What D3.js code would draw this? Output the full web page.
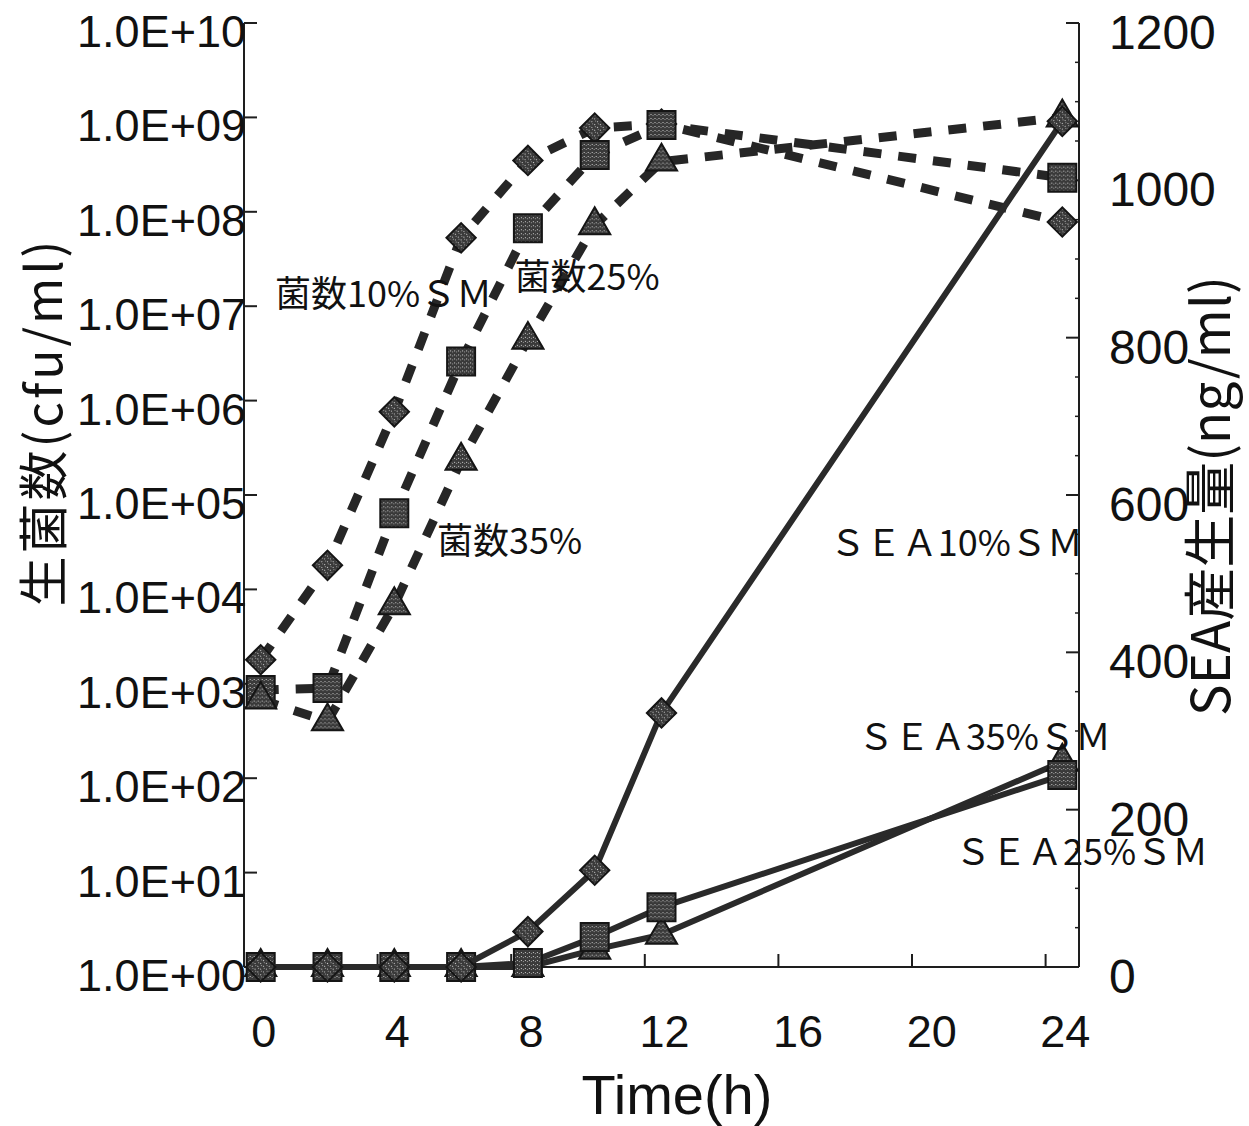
<!DOCTYPE html>
<html>
<head>
<meta charset="utf-8">
<script src="https://cdn.jsdelivr.net/npm/d3@7"></script>
<style>
  body { margin: 0; background: #fff; }
  svg { display: block; }
</style>
</head>
<body>
<svg id="chart" width="1249" height="1126"></svg>
<script>
// sampling hours
const hours = [0, 2, 4, 6, 8, 10, 12, 24];

// viable count (cfu/ml), left log axis
const count10 = [1.8e3, 1.8e4, 7.6e5, 5.3e7, 3.5e8, 7.7e8, 8.5e8, 7.8e7];
const count25 = [8.6e2, 9.0e2, 6.4e4, 2.6e6, 6.7e7, 4.0e8, 8.3e8, 2.3e8];
const count35 = [6.8e2, 4.0e2, 6.8e3, 2.3e5, 4.4e6, 7.2e7, 3.4e8, 1.0e9];

// SEA production (ng/ml), right axis
const sea10 = [0, 0, 0, 0, 45, 123, 323, 1075];
const sea25 = [0, 0, 0, 0, 5, 38, 76, 244];
const sea35 = [0, 0, 0, 0, 0, 22, 41, 261];

const xTicks = [0, 4, 8, 12, 16, 20, 24];
const leftTicks = [1e0, 1e1, 1e2, 1e3, 1e4, 1e5, 1e6, 1e7, 1e8, 1e9, 1e10];
const leftTickLabels = ["1.0E+00", "1.0E+01", "1.0E+02", "1.0E+03", "1.0E+04", "1.0E+05",
                        "1.0E+06", "1.0E+07", "1.0E+08", "1.0E+09", "1.0E+10"];
const rightTicks = [0, 200, 400, 600, 800, 1000, 1200];

// in-plot labels: [text, hour, value, axis]
const notes = [
    ["菌数10%ＳＭ", 0.43, 9.8e6, "L"],
    ["菌数25%", 7.6, 1.5e7, "L"],
    ["菌数35%", 5.28, 2.4e4, "L"],
    ["ＳＥＡ10%ＳＭ", 17.04, 522, "R"],
    ["ＳＥＡ35%ＳＭ", 17.88, 276, "R"],
    ["ＳＥＡ25%ＳＭ", 20.79, 130, "R"]
];

const svg = d3.select("#chart");
const plotL = 244, plotR = 1079, plotT = 23, plotB = 967;

const x = d3.scaleLinear().domain([-0.5, 24.5]).range([plotL, plotR]);
const yL = d3.scaleLog().domain([1, 1e10]).range([plotB, plotT]);
const yR = d3.scaleLinear().domain([0, 1200]).range([plotB, plotT]);

const ink = "#1e1e1e";
const numFont = "'Liberation Sans', Arial, sans-serif";
const cjkFont = "'Noto Sans CJK JP', sans-serif";

// speckled fill for markers
const defs = svg.append("defs");
const pat = defs.append("pattern")
    .attr("id", "speckle")
    .attr("width", 4).attr("height", 4)
    .attr("patternUnits", "userSpaceOnUse");
pat.append("rect").attr("width", 4).attr("height", 4).attr("fill", "#3a3a3a");
pat.append("rect").attr("x", 1).attr("y", 1).attr("width", 1).attr("height", 1).attr("fill", "#cfcfcf");
pat.append("rect").attr("x", 3).attr("y", 2).attr("width", 1).attr("height", 1).attr("fill", "#9a9a9a");

// axes frame
svg.append("line").attr("x1", plotL).attr("x2", plotL).attr("y1", plotT).attr("y2", plotB)
    .attr("stroke", ink).attr("stroke-width", 2);
svg.append("line").attr("x1", plotR).attr("x2", plotR).attr("y1", plotT).attr("y2", plotB)
    .attr("stroke", ink).attr("stroke-width", 2);
svg.append("line").attr("x1", plotL).attr("x2", plotR).attr("y1", plotB).attr("y2", plotB)
    .attr("stroke", ink).attr("stroke-width", 2);

// left ticks
leftTicks.forEach((v, i) => {
    svg.append("line")
        .attr("x1", plotL).attr("x2", plotL + 13)
        .attr("y1", yL(v)).attr("y2", yL(v))
        .attr("stroke", ink).attr("stroke-width", 2);
    svg.append("text")
        .attr("x", plotL + 2).attr("y", yL(v) + 24)
        .attr("text-anchor", "end")
        .attr("font-family", numFont).attr("font-size", 45)
        .attr("fill", "#111")
        .text(leftTickLabels[i]);
});

// right ticks
rightTicks.forEach(v => {
    svg.append("line")
        .attr("x1", plotR - 13).attr("x2", plotR)
        .attr("y1", yR(v)).attr("y2", yR(v))
        .attr("stroke", ink).attr("stroke-width", 2);
    svg.append("text")
        .attr("x", plotR + 30).attr("y", yR(v) + 26)
        .attr("text-anchor", "start")
        .attr("font-family", numFont).attr("font-size", 48)
        .attr("fill", "#111")
        .text(v);
});
// right minor ticks
d3.range(50, 1200, 50).filter(v => v % 200 !== 0).forEach(v => {
    svg.append("line")
        .attr("x1", plotR - 4).attr("x2", plotR)
        .attr("y1", yR(v)).attr("y2", yR(v))
        .attr("stroke", ink).attr("stroke-width", 1.5);
});

// bottom ticks
xTicks.forEach(v => {
    svg.append("line")
        .attr("x1", x(v - 0.5)).attr("x2", x(v - 0.5))
        .attr("y1", plotB).attr("y2", plotB - 13)
        .attr("stroke", ink).attr("stroke-width", 2);
    svg.append("text")
        .attr("x", x(v) + 3).attr("y", plotB + 80)
        .attr("text-anchor", "middle")
        .attr("font-family", numFont).attr("font-size", 45)
        .attr("fill", "#111")
        .text(v);
});

// axis titles
svg.append("text")
    .attr("transform", "translate(62,422) rotate(-90)")
    .attr("text-anchor", "middle")
    .attr("font-family", cjkFont).attr("font-size", 50)
    .attr("letter-spacing", 3)
    .attr("fill", "#111")
    .text("生菌数(cfu/ml)");

svg.append("text")
    .attr("transform", "translate(1230,496) rotate(-90)")
    .attr("text-anchor", "middle")
    .attr("font-family", cjkFont).attr("font-size", 53)
    .attr("fill", "#111")
    .text("SEA産生量(ng/ml)");
svg.append("text")
    .attr("x", 677).attr("y", 1114)
    .attr("text-anchor", "middle")
    .attr("font-family", numFont).attr("font-size", 56)
    .attr("fill", "#111")
    .text("Time(h)");

// marker shapes
const shapes = {
    diamond: d3.symbol().type(d3.symbolSquare).size(430)(),
    square: d3.symbol().type(d3.symbolSquare).size(784)(),
    triangle: d3.symbol().type(d3.symbolTriangle).size(420)()
};
const rot = { diamond: 45, square: 0, triangle: 0 };

function drawSeries(values, yScale, shape, dashed) {
    const pts = hours.map((h, i) => [h, values[i]]);
    const line = d3.line().x(d => x(d[0])).y(d => yScale(d[1]));
    svg.append("path")
        .attr("d", line(pts))
        .attr("fill", "none")
        .attr("stroke", dashed ? "#262626" : "#2a2a2a")
        .attr("stroke-width", dashed ? 9 : 6)
        .attr("stroke-dasharray", dashed ? "18,17" : null)
        .attr("stroke-linejoin", "round");
    svg.append("g").selectAll("path")
        .data(pts)
        .join("path")
        .attr("d", shapes[shape])
        .attr("transform", d => `translate(${x(d[0])},${yScale(d[1])}) rotate(${rot[shape]})`)
        .attr("fill", "url(#speckle)")
        .attr("stroke", "#151515")
        .attr("stroke-width", 2);
}

drawSeries(count10, yL, "diamond", true);
drawSeries(count25, yL, "square", true);
drawSeries(count35, yL, "triangle", true);
drawSeries(sea35, yR, "triangle", false);
drawSeries(sea25, yR, "square", false);
drawSeries(sea10, yR, "diamond", false);

// in-plot labels
notes.forEach(n => {
    const yy = n[3] === "L" ? yL(n[2]) : yR(n[2]);
    svg.append("text")
        .attr("x", x(n[1])).attr("y", yy)
        .attr("font-family", cjkFont).attr("font-size", 36)
        .attr("fill", "#111")
        .text(n[0]);
});
</script>
</body>
</html>
